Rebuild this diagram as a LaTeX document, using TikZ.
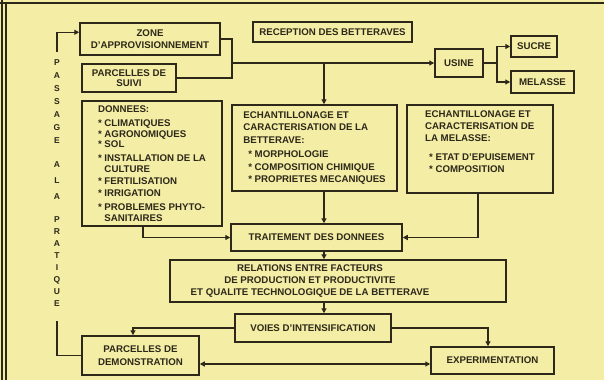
\documentclass[tikz,border=0pt]{standalone}
\usepackage{fontspec}
\setmainfont{Liberation Sans}
\usetikzlibrary{arrows.meta,calc}
\definecolor{bg}{RGB}{243,237,165}
\definecolor{ink}{RGB}{45,40,25}
\newcommand{\myast}{\mbox{*}\ }
\begin{document}
\begin{tikzpicture}[x=1pt,y=-1pt,
  box/.style={draw=ink,line width=1.5pt,rectangle,inner sep=0pt,text=ink,
    font=\fontsize{9.7}{12}\selectfont\bfseries,align=center},
  conn/.style={draw=ink,line width=1.5pt},
  arr/.style={conn,-{Triangle[length=5pt,width=5pt]}},
  dbl/.style={conn,{Triangle[length=5pt,width=5pt]}-{Triangle[length=5pt,width=5pt]}},
  letters/.style={text=ink,inner sep=0pt,align=center}]
\fill[bg] (0,0) rectangle (604,380);
\useasboundingbox (0,0) rectangle (604,380);
% frame
\draw[ink,line width=1.2pt] (2,0) -- (2,380);
\draw[ink,line width=1.2pt] (6,3) -- (6,380);
\draw[ink,line width=1.5pt] (0,3) -- (604,3);

% boxes
\node[box,minimum width=140pt,minimum height=32pt] (zone) at (150,39) {ZONE\\D'APPROVISIONNEMENT};
\node[box,minimum width=94pt,minimum height=28pt,font=\fontsize{9.7}{10.5}\selectfont\bfseries] (suivi) at (129,78) {PARCELLES DE\\SUIVI};
\node[box,minimum width=159pt,minimum height=20pt] (reception) at (332.5,32) {RECEPTION DES BETTERAVES};
\node[box,minimum width=48pt,minimum height=28pt] (usine) at (459,63) {USINE};
\node[box,minimum width=46pt,minimum height=21pt] (sucre) at (534,46.5) {SUCRE};
\node[box,minimum width=63pt,minimum height=22pt] (melasse) at (542.5,82) {MELASSE};

\node[box,minimum width=140pt,minimum height=125pt,align=left,
  font=\fontsize{9.7}{11}\selectfont\bfseries] (donnees) at (152,163.5)
  {DONNEES:\\[3pt]
   \myast CLIMATIQUES\\
   \myast AGRONOMIQUES\\[-1pt]
   \myast SOL\\[3pt]
   \myast INSTALLATION DE LA\\
   \hphantom{\myast}CULTURE\\[1pt]
   \myast FERTILISATION\\[1pt]
   \myast IRRIGATION\\[3pt]
   \myast PROBLEMES PHYTO-\\
   \hphantom{\myast}SANITAIRES};

\node[box,minimum width=165pt,minimum height=86pt,align=left,
  font=\fontsize{9.7}{12.5}\selectfont\bfseries] (echB) at (314.5,148)
  {ECHANTILLONAGE ET\\
   CARACTERISATION DE LA\\
   BETTERAVE:\\[2pt]
   \hspace*{5pt}\myast MORPHOLOGIE\\
   \hspace*{5pt}\myast COMPOSITION CHIMIQUE\\
   \hspace*{5pt}\myast PROPRIETES MECANIQUES};

\node[box,minimum width=146pt,minimum height=88pt,align=left,
  font=\fontsize{9.7}{12}\selectfont\bfseries] (echM) at (480,149)
  {ECHANTILLONAGE ET\\
   CARACTERISATION DE\\
   LA MELASSE:\\[7pt]
   \hspace*{4pt}\myast ETAT D'EPUISEMENT\\
   \hspace*{4pt}\myast COMPOSITION\rule[-15pt]{0pt}{1pt}};

\node[box,minimum width=171pt,minimum height=27pt] (trait) at (316.5,237.5) {TRAITEMENT DES DONNEES};
\node[box,minimum width=336pt,minimum height=42pt] (rel) at (338,281) {};
\node[letters,font=\fontsize{9.7}{12}\selectfont\bfseries] (relT) at (310,281)
  {RELATIONS ENTRE FACTEURS\\DE PRODUCTION ET PRODUCTIVITE\\ET QUALITE TECHNOLOGIQUE DE LA BETTERAVE};
\node[box,minimum width=156pt,minimum height=28pt] (voies) at (313,328) {VOIES D'INTENSIFICATION};
\node[box,minimum width=117pt,minimum height=39pt,font=\fontsize{9.7}{13}\selectfont\bfseries] (demo) at (140.5,355.5) {PARCELLES DE\\DEMONSTRATION};
\node[box,minimum width=123pt,minimum height=27pt] (exp) at (492.5,360.5) {EXPERIMENTATION};

% vertical text
\node[letters,font=\fontsize{8.5}{13}\selectfont\bfseries] (passage) at (57,102) {P\\A\\S\\S\\A\\G\\E};
\node[letters,font=\fontsize{8.5}{16}\selectfont\bfseries] (ala) at (57,181) {A\\L\\A};
\node[letters,font=\fontsize{8.5}{11.9}\selectfont\bfseries] (pratique) at (57,261.5) {P\\R\\A\\T\\I\\Q\\U\\E};

% connectors
\coordinate (j1) at (232,63);
\draw[conn] (zone.east) -| (j1);
\draw[conn] (suivi.east) -| (j1);
\draw[arr] (j1) -- (usine.west);
\coordinate (j2) at (324,63);
\draw[arr] (j2) -- (j2 |- echB.north);
\coordinate (j3) at (497,63);
\draw[conn] (usine.east) -- (j3);
\draw[arr] (j3) |- (sucre.west);
\draw[arr] (j3) |- (melasse.west);
\draw[arr] (echB.south -| j2) -- (trait.north -| j2);
\coordinate (xd) at (143,0);
\draw[arr] (donnees.south -| xd) |- (trait.west);
\coordinate (xm) at (478,0);
\draw[arr] (echM.south -| xm) |- (trait.east);
\draw[arr] (trait.south -| j2) -- (rel.north -| j2);
\draw[arr] (rel.south -| j2) -- (voies.north -| j2);
\coordinate (xdem) at (133,0);
\draw[arr] (voies.west) -| (demo.north -| xdem);
\coordinate (xe) at (488,0);
\draw[arr] (voies.east) -| (exp.north -| xe);
\coordinate (yd) at (0,364);
\draw[dbl] (demo.east |- yd) -- (exp.west |- yd);
\coordinate (ptop) at (57,52);
\coordinate (za) at ($(zone.north west)+(0,10)$);
\draw[arr] (ptop) |- (za);
\coordinate (pbot) at (57,321);
\draw[conn] (pbot) |- (demo.west);
\end{tikzpicture}
\end{document}
